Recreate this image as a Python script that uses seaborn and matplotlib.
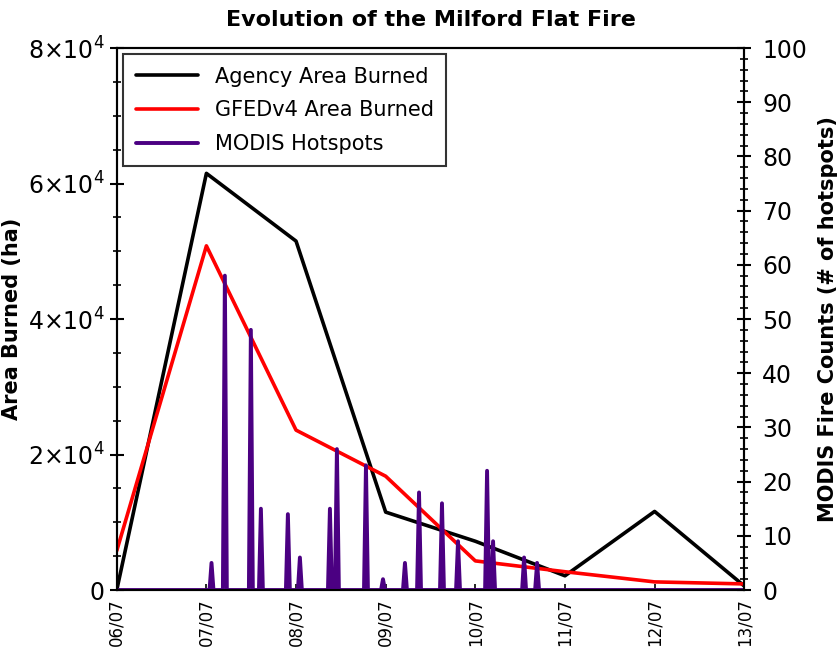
import matplotlib
matplotlib.use("Agg")
import matplotlib.pyplot as plt
from matplotlib.ticker import FuncFormatter, MultipleLocator
import pandas as pd
import seaborn as sns

# ---- data ----
dates = ["2007-07-06", "2007-07-07", "2007-07-08", "2007-07-09",
         "2007-07-10", "2007-07-11", "2007-07-12", "2007-07-13"]
tick_labels = ["06/07", "07/07", "08/07", "09/07", "10/07", "11/07", "12/07", "13/07"]
agency_area = [0, 61500, 51500, 11500, 7200, 2100, 11600, 600]
gfed_area = [5800, 50800, 23600, 16800, 4300, 2700, 1200, 900]

# MODIS hotspot detections: days after 06/07 00:00 and counts
hotspot_day = [1.057, 1.206, 1.496, 1.608, 1.909, 2.043, 2.378, 2.456, 2.780,
               2.970, 3.215, 3.372, 3.628, 3.807, 4.131, 4.198, 4.544, 4.689]
hotspot_count = [5, 58, 48, 15, 14, 6, 15, 26, 23, 2, 5, 18, 16, 9, 22, 9, 6, 5]

title = "Evolution of the Milford Flat Fire"
labels = ["Agency Area Burned", "GFEDv4 Area Burned", "MODIS Hotspots"]
left_label = "Area Burned (ha)"
right_label = "MODIS Fire Counts (# of hotspots)"

# ---- build tables ----
t0 = pd.Timestamp(dates[0])
area_df = pd.DataFrame({"date": pd.to_datetime(dates),
                        "agency": agency_area, "gfed": gfed_area})

hs_t = [0.0]
hs_v = [0]
for d, c in zip(hotspot_day, hotspot_count):
    hs_t += [d - 0.022, d, d + 0.022]
    hs_v += [0, c, 0]
hs_t.append(7.0)
hs_v.append(0)
hs_df = pd.DataFrame({"date": t0 + pd.to_timedelta(hs_t, unit="D"), "count": hs_v})

# ---- plot ----
sns.set_style("white")
plt.rcParams["font.family"] = ["DejaVu Sans"]
plt.rcParams["text.color"] = "black"
plt.rcParams["axes.labelcolor"] = "black"
plt.rcParams["xtick.color"] = "black"
plt.rcParams["ytick.color"] = "black"

fig = plt.figure(figsize=(8.4, 6.55), dpi=100)
ax = fig.add_axes([0.139, 0.0992, 0.747, 0.8275])
ax2 = ax.twinx()

sns.lineplot(data=area_df, x="date", y="agency", ax=ax, color="black",
             linewidth=2.6, label=labels[0], legend=False)
sns.lineplot(data=area_df, x="date", y="gfed", ax=ax, color="#ff0000",
             linewidth=2.6, label=labels[1], legend=False)
sns.lineplot(data=hs_df, x="date", y="count", ax=ax2, color="#4b0082",
             linewidth=2.8, label=labels[2], legend=False)

ax.set_xlim(pd.Timestamp(dates[0]), pd.Timestamp(dates[-1]))
ax.set_ylim(0, 80000)
ax2.set_ylim(0, 100)

ax.set_xticks(pd.to_datetime(dates))
ax.set_xticklabels(tick_labels, rotation=90, fontsize=12)

ax.yaxis.set_major_locator(MultipleLocator(20000))
ax.yaxis.set_minor_locator(MultipleLocator(5000))
ax.yaxis.set_major_formatter(FuncFormatter(
    lambda v, p: "0" if v == 0 else r"$%d{\times}10^{4}$" % round(v / 1e4)))
ax2.yaxis.set_major_locator(MultipleLocator(10))
ax2.yaxis.set_minor_locator(MultipleLocator(2))

ax.tick_params(axis="y", which="major", direction="inout", length=10, width=1.5,
               labelsize=17, left=True, pad=4)
ax.tick_params(axis="y", which="minor", direction="inout", length=6, width=1.2, left=True)
ax.tick_params(axis="x", which="major", direction="in", length=4, width=1.2,
               bottom=True, pad=6)
ax2.tick_params(axis="y", which="major", direction="inout", length=10, width=1.5,
                labelsize=17, right=True, pad=8)
ax2.tick_params(axis="y", which="minor", direction="inout", length=6, width=1.2, right=True)

for a in (ax, ax2):
    for s in a.spines.values():
        s.set_color("black")
        s.set_linewidth(1.5)

ax.set_xlabel("")
ax.set_ylabel(left_label, fontsize=15, fontweight="bold", labelpad=4)
ax2.set_ylabel(right_label, fontsize=15, fontweight="bold", labelpad=8)
ax.set_title(title, fontsize=16, fontweight="bold", pad=16)

h1, l1 = ax.get_legend_handles_labels()
h2, l2 = ax2.get_legend_handles_labels()
leg = ax2.legend(h1 + h2, l1 + l2, loc="upper left", fontsize=15,
                 frameon=True, fancybox=False, edgecolor="black",
                 handlelength=3, borderpad=0.6, labelspacing=0.65,
                 borderaxespad=0.3, bbox_to_anchor=(0.0, 1.0))
leg.get_frame().set_linewidth(1.5)

fig.savefig("out.png", dpi=100)
